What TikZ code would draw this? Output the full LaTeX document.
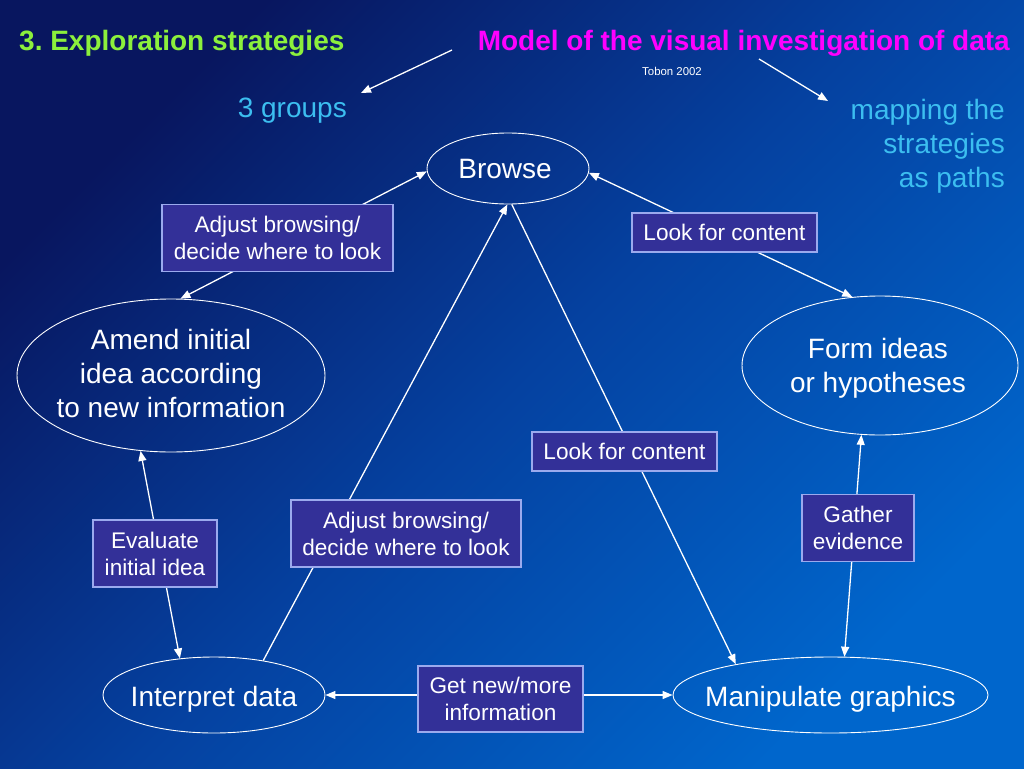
\documentclass[tikz,border=0pt]{standalone}
\usepackage{fontspec}
\setmainfont{Liberation Sans}
\usetikzlibrary{arrows.meta,shapes.geometric}
\definecolor{bgdark}{RGB}{8,22,95}
\definecolor{bgmid}{RGB}{5,65,160}
\definecolor{bglight}{RGB}{0,102,204}
\definecolor{boxfill}{RGB}{51,48,152}
\definecolor{boxline}{RGB}{155,170,238}
\definecolor{titlegreen}{RGB}{140,240,60}
\definecolor{titlemagenta}{RGB}{255,0,255}
\definecolor{skyblue}{RGB}{60,190,240}
\frenchspacing
\begin{document}
\begin{tikzpicture}[x=1pt,y=-1pt,
  stage/.style={ellipse, draw=white, line width=0.9pt, inner sep=0pt},
  stagetext/.style={text=white, inner sep=0pt, align=center, font=\fontsize{28}{34}\selectfont},
  actbox/.style={rectangle, draw=boxline, fill=boxfill, line width=1.3pt, text=white, inner sep=0pt, align=center, font=\fontsize{22.6}{27}\selectfont},
  link/.style={draw=white, line width=1.3pt},
  tip/.tip={Triangle[length=10pt,width=8pt]}
]
\useasboundingbox (0,0) rectangle (1024,768);
\shade[top color=bgdark, bottom color=bglight, middle color=bgmid, shading angle=45] (0,0) rectangle (1024,768);

% titles
\node[anchor=base west, inner sep=0pt, text=titlegreen, font=\fontsize{28}{34}\selectfont\bfseries] (title) at (19,50) {3. Exploration strategies};
\node[anchor=base east, inner sep=0pt, text=titlemagenta, font=\fontsize{28}{34}\selectfont\bfseries] (model) at (1010,50) {Model of the visual investigation of data};
\node[inner sep=0pt, text=white, font=\fontsize{11.4}{13}\selectfont] (tobon) at (672,71) {Tobon 2002};
\node[anchor=base east, inner sep=0pt, text=skyblue, font=\fontsize{28}{34}\selectfont] (groups) at (347,117) {3 groups};
\node[anchor=north east, inner sep=0pt, text=skyblue, align=right, font=\fontsize{28}{34}\selectfont] (mapping) at (1005,99) {mapping the\\strategies\\as paths};

\coordinate (g1) at (452,50);
\coordinate (g2) at (361,93);
\coordinate (p1) at (759,59);
\coordinate (p2) at (828,101);
\draw[link,-tip] (g1) -- (g2);
\draw[link,-tip] (p1) -- (p2);

% stages
\node[stage, minimum width=162, minimum height=71] (browse) at (508,168.5) {};
\node[stagetext] (browsetext) at ([xshift=-3pt,yshift=-1pt]browse.center) {Browse};
\node[stage, minimum width=308, minimum height=153] (amend) at (171,375.5) {};
\node[stagetext] (amendtext) at ([yshift=2pt]amend.center) {Amend initial\\idea according\\to new information};
\node[stage, minimum width=276, minimum height=139] (form) at (880,365.5) {};
\node[stagetext] (formtext) at ([xshift=-2pt,yshift=-2.5pt]form.center) {Form ideas\\or hypotheses};
\node[stage, minimum width=222, minimum height=76] (interp) at (214,695) {};
\node[stagetext] (interptext) at ([yshift=-4pt]interp.center) {Interpret data};
\node[stage, minimum width=315, minimum height=76] (manip) at (830.5,695) {};
\node[stagetext] (maniptext) at ([yshift=-4.5pt]manip.center) {Manipulate graphics};

% connectors
\draw[link,tip-tip] (amend.83) -- (browse.182);
\draw[link,tip-tip] (browse.-3) -- (form.112);
\draw[link,-tip] (browse.-84) -- (manip.162);
\draw[link,-tip] (interp.35) -- (browse.-91);
\draw[link,tip-tip] (amend.248) -- (interp.133);
\draw[link,tip-tip] (form.255) -- (manip.70);
\draw[link,tip-tip] (interp.east) -- (manip.west);

% activity boxes
\node[actbox, minimum width=231, minimum height=67] (adj1) at (277.5,238) {Adjust browsing/\\decide where to look};
\node[actbox, minimum width=185, minimum height=39] (look1) at (724.5,232.5) {Look for content};
\node[actbox, minimum width=185, minimum height=39] (look2) at (624.5,451.5) {Look for content};
\node[actbox, minimum width=230, minimum height=67] (adj2) at (406,533.5) {Adjust browsing/\\decide where to look};
\node[actbox, minimum width=124, minimum height=67] (eval) at (155,553.5) {Evaluate\\initial idea};
\node[actbox, minimum width=112, minimum height=67] (gather) at (858,528) {Gather\\evidence};
\node[actbox, minimum width=165, minimum height=66] (getnew) at (500.5,699) {Get new/more\\information};
\end{tikzpicture}
\end{document}
